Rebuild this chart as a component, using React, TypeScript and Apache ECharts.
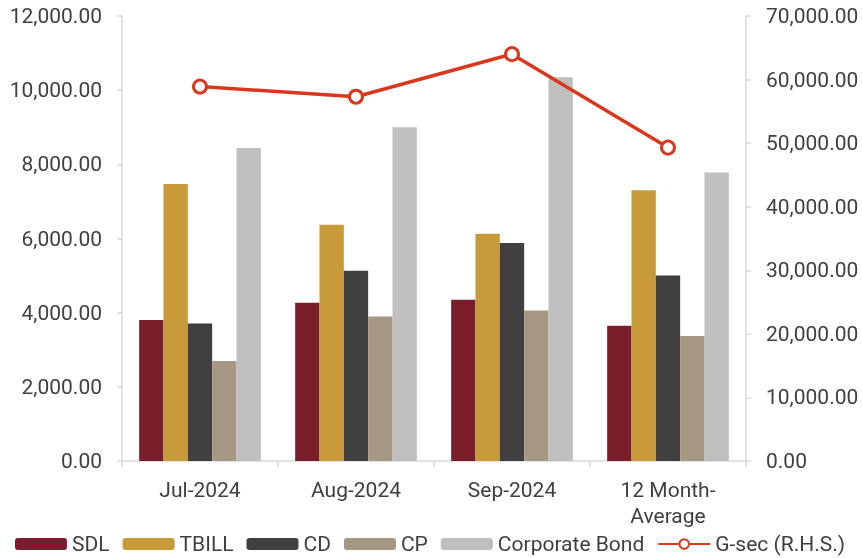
import React, { useEffect, useRef } from "react";
import * as echarts from "echarts";

const categories = ["Jul-2024", "Aug-2024", "Sep-2024", "12 Month-\nAverage"];
const sdl = [3800, 4270, 4350, 3650];
const tbill = [7470, 6370, 6130, 7300];
const cd = [3710, 5130, 5880, 5000];
const cp = [2700, 3900, 4060, 3370];
const corpBond = [8440, 9000, 10350, 7780];
const gsec = [58900, 57300, 64000, 49300];

const FONT = "Roboto";
const TXT = "#404040";
const AX = "#D9D9D9";
const FS = 21;

const fmt = (v: number) =>
  v.toLocaleString("en-US", { minimumFractionDigits: 2, maximumFractionDigits: 2 });

export default function App() {
  const ref = useRef<HTMLDivElement>(null);
  useEffect(() => {
    if (!ref.current) return;
    const chart = echarts.init(ref.current, null, { renderer: "svg" });
    const bar = (name: string, data: number[], color: string) => ({
      name,
      type: "bar",
      data,
      barGap: "0%",
      barCategoryGap: "22%",
      itemStyle: { color },
      emphasis: { disabled: true },
    });
    chart.setOption({
      animation: false,
      textStyle: { fontFamily: FONT, color: TXT },
      grid: { left: 122, right: 116, top: 16, bottom: 97, containLabel: false },
      legend: {
        top: 533,
        left: 15,
        width: 847,
        padding: 0,
        itemWidth: 52,
        itemHeight: 12,
        itemGap: 13,
        textStyle: { fontFamily: FONT, fontSize: 21, color: TXT, lineHeight: 22 },
        data: ["SDL", "TBILL", "CD", "CP", "Corporate Bond", "G-sec (R.H.S.)"],
      },
      xAxis: {
        type: "category",
        data: categories,
        axisLine: { lineStyle: { color: AX, width: 1.5 } },
        axisTick: { show: true, length: 6, lineStyle: { color: AX, width: 1.5 } },
        axisLabel: { fontSize: FS, color: TXT, margin: 16, lineHeight: 26 },
      },
      yAxis: [
        {
          type: "value",
          min: 0,
          max: 12000,
          interval: 2000,
          splitLine: { show: false },
          axisLine: { show: true, lineStyle: { color: AX, width: 1.5 } },
          axisTick: { show: true, length: 5, lineStyle: { color: AX, width: 1.5 } },
          axisLabel: { fontSize: FS, color: TXT, margin: 20, formatter: fmt },
        },
        {
          type: "value",
          min: 0,
          max: 70000,
          interval: 10000,
          splitLine: { show: false },
          axisLine: { show: true, lineStyle: { color: AX, width: 1.5 } },
          axisTick: { show: true, length: 5, lineStyle: { color: AX, width: 1.5 } },
          axisLabel: { fontSize: FS, color: TXT, margin: 20, formatter: fmt },
        },
      ],
      series: [
        bar("SDL", sdl, "#7B1E2B"),
        bar("TBILL", tbill, "#C89B3A"),
        bar("CD", cd, "#404040"),
        bar("CP", cp, "#A69784"),
        bar("Corporate Bond", corpBond, "#BFBFBF"),
        {
          name: "G-sec (R.H.S.)",
          type: "line",
          yAxisIndex: 1,
          data: gsec,
          symbol: "circle",
          symbolSize: 13,
          lineStyle: { color: "#D9381E", width: 3.5 },
          itemStyle: { color: "#FFFFFF", borderColor: "#D9381E", borderWidth: 3 },
          emphasis: { disabled: true },
        },
      ],
    });
    return () => chart.dispose();
  }, []);
  return (
    <div
      ref={ref}
      style={{ position: "fixed", left: 0, top: 0, width: 862, height: 558 }}
    />
  );
}
